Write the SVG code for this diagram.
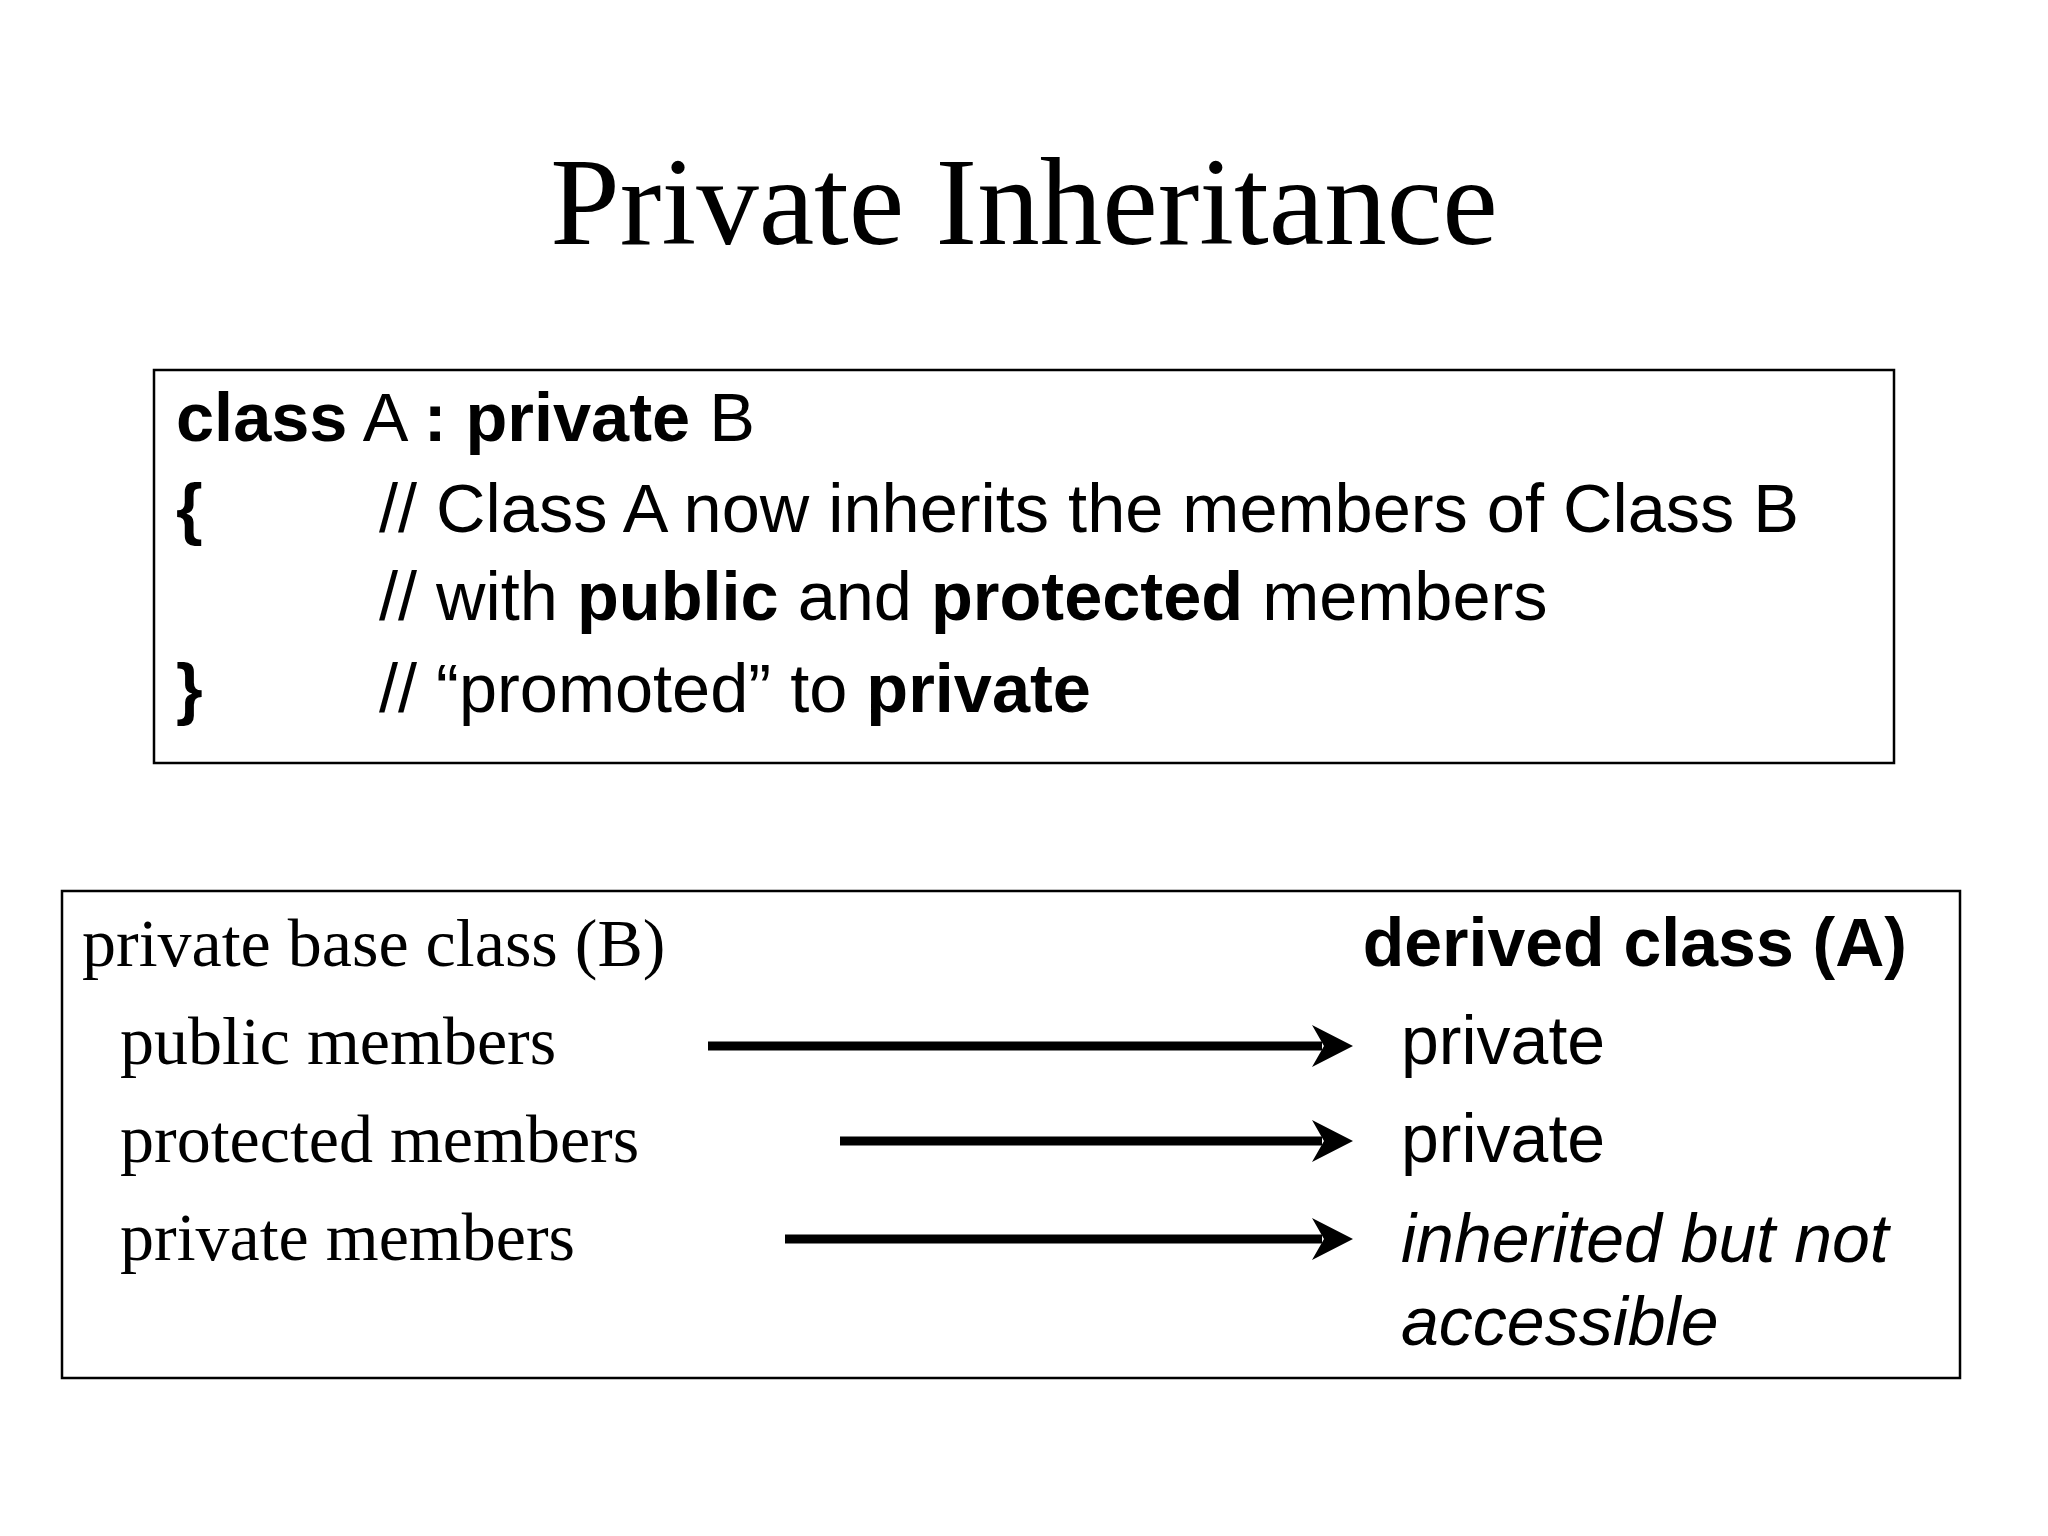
<svg xmlns="http://www.w3.org/2000/svg" width="2048" height="1536" viewBox="0 0 2048 1536">
<style>
.serif{font-family:"Liberation Serif","Times New Roman",serif;fill:#000}
.sans{font-family:"Liberation Sans",Arial,sans-serif;fill:#000}
.b{font-weight:bold}
.box{fill:#fff;stroke:#000;stroke-width:2.5}
.arrow{stroke:#000;stroke-width:9;fill:none;marker-end:url(#head)}
</style>
<defs>
<marker id="head" markerUnits="userSpaceOnUse" markerWidth="44" markerHeight="44" refX="10" refY="21" orient="auto">
<path d="M0,0 L41,21 L0,42 L12,21 Z" fill="#000"/>
</marker>
</defs>
<rect width="2048" height="1536" fill="#fff"/>
<g id="title">
<text class="serif" x="1024" y="244" font-size="125" text-anchor="middle">Private Inheritance</text>
</g>
<g id="code-box">
<rect class="box" x="154" y="370" width="1740" height="393"/>
<text class="sans" font-size="68.5" x="176" y="441"><tspan class="b">class</tspan> A <tspan class="b">:</tspan> <tspan class="b">private</tspan> B</text>
<text class="sans b" font-size="68.5" x="176" y="532">{</text>
<text class="sans" font-size="68.5" x="379" y="532">// Class A now inherits the members of Class B</text>
<text class="sans" font-size="68.5" x="379" y="620">// with <tspan class="b">public</tspan> and <tspan class="b">protected</tspan> members</text>
<text class="sans b" font-size="68.5" x="176" y="712">}</text>
<text class="sans" font-size="68.5" x="379" y="712">// “promoted” to <tspan class="b">private</tspan></text>
</g>
<g id="mapping-box">
<rect class="box" x="62" y="891" width="1898" height="487"/>
</g>
<g id="base-header"><text class="serif" font-size="68" x="82" y="966">private base class (B)</text></g>
<g id="derived-header"><text class="sans b" font-size="68" x="1907" y="966" text-anchor="end">derived class (A)</text></g>
<g id="public-members"><text class="serif" font-size="68" x="120" y="1064">public members</text></g>
<g id="protected-members"><text class="serif" font-size="68" x="120" y="1162">protected members</text></g>
<g id="private-members"><text class="serif" font-size="68" x="120" y="1260">private members</text></g>
<g id="public-result"><text class="sans" font-size="68" x="1401" y="1064">private</text></g>
<g id="protected-result"><text class="sans" font-size="68" x="1401" y="1162">private</text></g>
<g id="private-result"><text class="sans" font-size="68" font-style="italic" x="1401" y="1262">inherited but not</text><text class="sans" font-size="68" font-style="italic" x="1401" y="1345">accessible</text></g>
<g id="connectors">
<line class="arrow" x1="708" y1="1046" x2="1322" y2="1046"/>
<line class="arrow" x1="840" y1="1141" x2="1322" y2="1141"/>
<line class="arrow" x1="785" y1="1239" x2="1322" y2="1239"/>
</g>
</svg>
